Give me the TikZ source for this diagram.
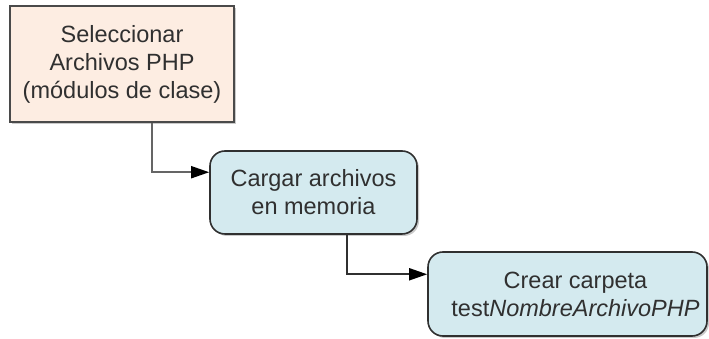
\documentclass[tikz,border=0pt]{standalone}
\usepackage{fontspec}
\setmainfont{Liberation Sans}
\usetikzlibrary{arrows.meta,shadows}
\definecolor{ink}{HTML}{303030}
\definecolor{edge}{HTML}{4A4A4A}
\definecolor{peachfill}{HTML}{FDEDE2}
\definecolor{bluefill}{HTML}{D4EAEF}

\begin{document}
\begin{tikzpicture}[
  x=1pt,y=1pt,
  font=\fontsize{23.5}{28}\selectfont,text=ink,
  box/.style={draw=ink,line width=1.6pt,fill=bluefill,rounded corners=15pt,
    align=center,inner sep=0pt,
    drop shadow={shadow xshift=2pt,shadow yshift=-2pt,fill=black!35,opacity=.6}},
  startbox/.style={box,draw=edge,line width=2pt,fill=peachfill,sharp corners},
  flow/.style={-{Triangle[length=18pt,width=12pt,color=black]},line width=1.8pt,draw=edge!85}]
\useasboundingbox (0,0) rectangle (709,339);
\node[startbox,minimum width=224pt,minimum height=116pt] (select) at (122,275)
  {Seleccionar\\Archivos PHP\\(módulos de clase)};
\node[box,minimum width=207pt,minimum height=83pt] (load) at (313.5,146.5)
  {Cargar archivos\\en memoria};
\node[box,minimum width=279pt,minimum height=84pt] (mkdir) at (567.5,45)
  {\hspace*{16pt}Crear carpeta\\\hspace*{16pt}test\textit{NombreArchivoPHP}};
\draw[flow] ([xshift=143pt]select.south west) |- (load.169);
\draw[flow,draw=ink] ([xshift=138pt]load.south west) |- (mkdir.172);
\end{tikzpicture}
\end{document}
